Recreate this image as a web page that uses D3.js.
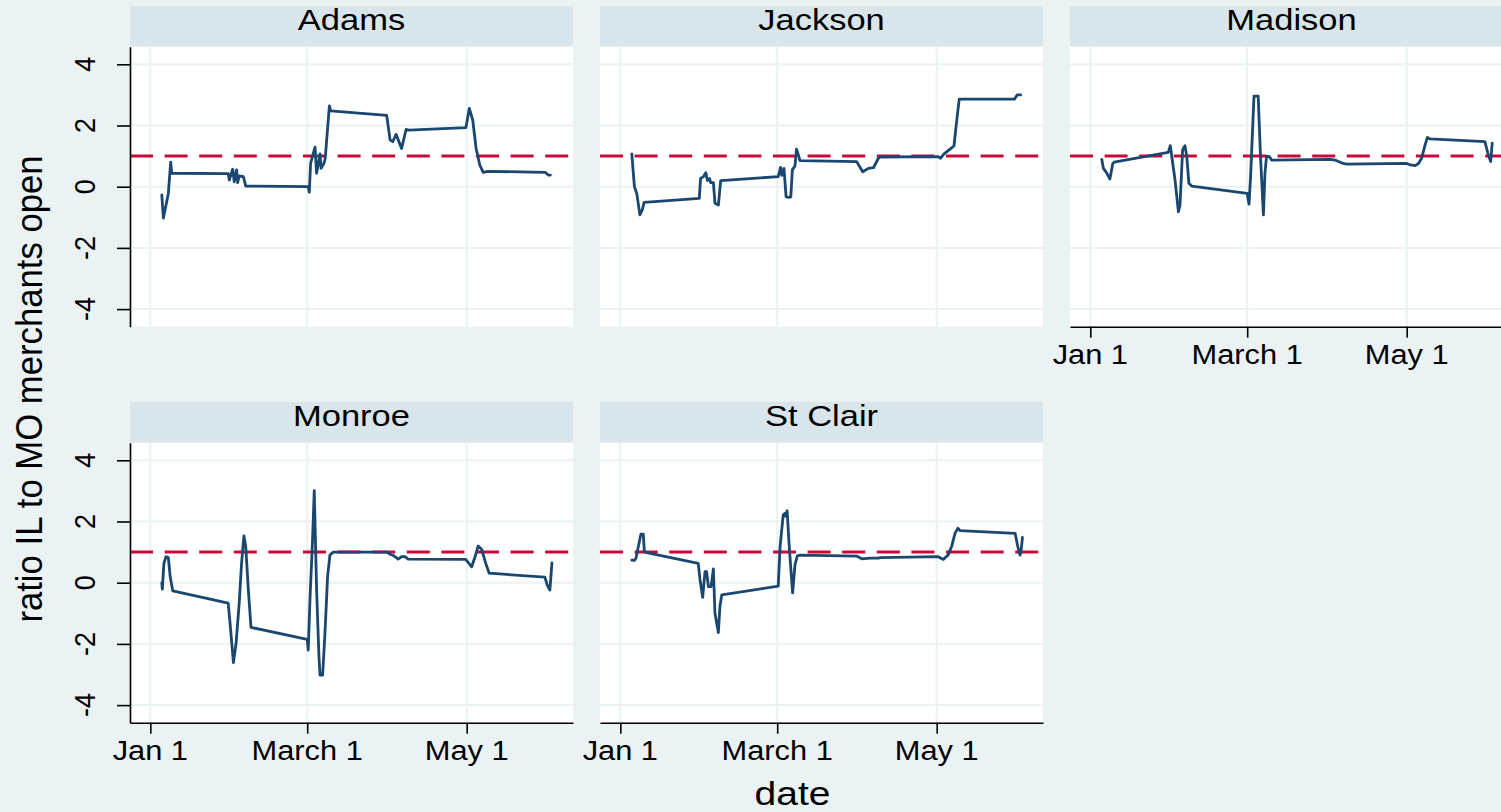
<!DOCTYPE html>
<html>
<head>
<meta charset="utf-8">
<script src="https://cdn.jsdelivr.net/npm/d3@7"></script>
<style>
  html, body { margin: 0; padding: 0; background: #eaf2f3; overflow: hidden; }
  svg { display: block; }
  text { font-family: "Liberation Sans", Arial, Helvetica, sans-serif; fill: #000; }
</style>
</head>
<body>
<svg id="chart" width="1501" height="812"></svg>
<script>
// ---- data: [days since Jan 1 2020, ratio] ----
const counties = ["Adams", "Jackson", "Madison", "Monroe", "St Clair"];

const adams = [[4.4,-0.27],[5.0,-1.03],[6.9,-0.22],[7.8,0.80],[8.2,0.44],[29.8,0.43],[30.2,0.22],[31.5,0.57],[32.1,0.16],[33.0,0.55],[33.4,0.13],[34.0,0.35],[35.6,0.33],[36.5,0.02],[60.4,0.0],[60.8,-0.18],[61.3,0.76],[63.0,1.29],[63.6,0.44],[64.9,1.07],[65.3,0.6],[66.4,0.76],[66.9,0.93],[67.7,1.8],[68.5,2.64],[69.0,2.48],[90.4,2.33],[91.7,1.53],[92.7,1.47],[94.0,1.71],[96.1,1.25],[97.8,1.87],[98.9,1.85],[120.7,1.93],[122.0,2.56],[123.3,2.18],[124.6,1.25],[126.0,0.71],[127.3,0.47],[129.2,0.5],[151.0,0.47],[152.2,0.38],[153.0,0.38]];

const jackson = [[4.4,1.07],[5.4,0.0],[6.3,-0.22],[7.5,-0.92],[8.4,-0.76],[9.1,-0.51],[30.2,-0.38],[30.7,0.27],[31.8,0.33],[32.7,0.46],[33.3,0.2],[34.1,0.27],[34.6,0.13],[35.6,0.13],[36.2,-0.54],[37.5,-0.6],[38.4,0.2],[60.4,0.33],[61.3,0.63],[61.8,0.37],[62.6,0.6],[63.4,-0.33],[64.5,-0.35],[65.2,-0.33],[65.8,0.55],[66.8,0.68],[67.4,1.23],[68.1,1.04],[68.7,0.85],[90.4,0.82],[92.7,0.49],[94.9,0.6],[96.8,0.62],[98.7,0.93],[99.3,0.97],[121.6,0.98],[122.5,0.93],[123.8,1.07],[126.1,1.23],[127.6,1.33],[128.4,1.96],[129.6,2.86],[150.7,2.86],[151.8,3.0],[153.1,3.0]];

const madison = [[4.4,0.89],[5.0,0.6],[6.2,0.46],[7.5,0.25],[8.6,0.76],[9.1,0.8],[29.8,1.12],[30.6,1.34],[32.4,0.22],[33.7,-0.82],[34.3,-0.6],[35.3,1.2],[36.2,1.34],[36.9,0.98],[37.7,0.11],[38.8,0.02],[60.0,-0.22],[60.7,-0.57],[61.3,0.33],[62.6,2.96],[64.2,2.96],[65.1,0.98],[66.2,-0.92],[66.8,0.44],[67.4,1.0],[68.5,0.98],[69.4,0.87],[91.7,0.89],[93.6,0.87],[96.7,0.76],[98.0,0.74],[121.0,0.76],[122.5,0.71],[124.2,0.69],[125.5,0.76],[126.7,0.93],[128.0,1.36],[128.9,1.61],[129.9,1.56],[150.9,1.47],[152.2,1.04],[153.1,0.82],[153.7,1.42]];

const monroe = [[4.4,0.0],[4.6,-0.21],[5.2,0.63],[6.0,0.85],[6.9,0.82],[7.6,0.2],[8.6,-0.27],[29.8,-0.67],[30.5,-1.33],[31.8,-2.61],[32.8,-1.98],[34.0,-0.67],[34.9,0.63],[35.8,1.53],[36.5,1.18],[37.5,-0.24],[38.5,-1.46],[60.0,-1.85],[60.4,-2.2],[61.1,-0.46],[62.0,1.29],[62.7,3.01],[63.6,-0.24],[64.5,-2.42],[64.9,-3.02],[65.9,-3.02],[66.8,-1.65],[67.8,0.2],[68.7,0.91],[70.0,1.0],[90.4,1.0],[91.7,0.93],[92.9,0.89],[94.8,0.77],[96.1,0.85],[97.4,0.85],[98.6,0.77],[120.6,0.76],[121.6,0.66],[122.9,0.52],[124.2,0.85],[125.4,1.2],[126.7,1.09],[128.3,0.63],[129.6,0.31],[150.9,0.18],[151.8,-0.08],[152.8,-0.24],[153.2,0.2],[153.6,0.65]];

const stClair = [[4.4,0.74],[5.4,0.73],[6.0,0.8],[6.9,1.18],[7.9,1.59],[8.8,1.59],[9.2,1.01],[10.1,0.98],[29.8,0.63],[30.5,0.09],[31.5,-0.48],[32.4,0.36],[33.0,0.36],[33.7,-0.13],[34.7,-0.13],[35.6,0.45],[36.2,-1.0],[37.5,-1.63],[38.1,-0.78],[38.8,-0.4],[60.4,-0.11],[61.1,1.18],[62.3,2.21],[63.0,2.27],[63.3,2.17],[63.8,2.35],[64.6,1.18],[65.9,-0.33],[66.8,0.58],[67.7,0.88],[68.7,0.9],[90.4,0.87],[92.3,0.78],[95.5,0.8],[98.7,0.8],[99.3,0.82],[121.6,0.85],[123.5,0.76],[125.4,0.91],[126.7,1.18],[128.0,1.61],[129.1,1.78],[130.0,1.7],[151.0,1.61],[152.0,1.18],[152.9,0.9],[153.3,1.07],[153.8,1.48]];

const seriesByCounty = [adams, jackson, madison, monroe, stClair];
const yTicks = [-4, -2, 0, 2, 4];
const xTickDates = ["2020-01-01", "2020-03-01", "2020-05-01"];
const xTickLabels = ["Jan 1", "March 1", "May 1"];
const referenceValue = 1;
const yTitle = "ratio IL to MO merchants open";
const xTitle = "date";

// ---- layout ----
const svg = d3.select("#chart");
const W = 1501, H = 812;
const C = {
  bg: "#eaf2f3", header: "#d8e5ea", grid: "#eaf2f3",
  line: "#1a476f", ref: "#c8093b", axis: "#000"
};
const panelW = 443, colStep = 470, rowStep = 396;
const left0 = 130, top0 = 6, headerH = 40.7, plotH = 280;
const nCols = 3;
const day0 = Date.UTC(2020, 0, 1);
const toDate = d => new Date(day0 + d * 864e5);
const xDomain = [toDate(-7.763), toDate(121 + 40.65)];
const yDomain = [-4.575, 4.575];

svg.append("rect").attr("width", W).attr("height", H).attr("fill", C.bg);

counties.forEach((name, i) => {
  const col = i % nCols, row = Math.floor(i / nCols);
  const px = left0 + col * colStep;
  const hy = top0 + row * rowStep;
  const py = hy + headerH;
  const data = seriesByCounty[i];

  const x = d3.scaleUtc().domain(xDomain).range([px, px + panelW]);
  const y = d3.scaleLinear().domain(yDomain).range([py + plotH, py]);

  const g = svg.append("g");

  // header strip
  g.append("rect").attr("x", px).attr("y", hy).attr("width", panelW).attr("height", headerH)
    .attr("fill", C.header);
  g.append("text")
    .attr("transform", `translate(${px + panelW / 2},${hy + 23.5}) scale(1.19,1)`)
    .attr("text-anchor", "middle").attr("font-size", 29).text(name);

  // plot area
  g.append("rect").attr("x", px).attr("y", py).attr("width", panelW).attr("height", plotH)
    .attr("fill", "#fff");

  // grid
  g.selectAll(".hg").data(yTicks).join("line")
    .attr("x1", px).attr("x2", px + panelW)
    .attr("y1", d => y(d)).attr("y2", d => y(d))
    .attr("stroke", C.grid).attr("stroke-width", 2);
  g.selectAll(".vg").data(xTickDates).join("line")
    .attr("x1", d => x(new Date(d))).attr("x2", d => x(new Date(d)))
    .attr("y1", py).attr("y2", py + plotH)
    .attr("stroke", C.grid).attr("stroke-width", 2);

  // reference line
  g.append("line")
    .attr("x1", px).attr("x2", px + panelW)
    .attr("y1", y(referenceValue)).attr("y2", y(referenceValue))
    .attr("stroke", C.ref).attr("stroke-width", 3)
    .attr("stroke-dasharray", "23 11.6");

  // series line
  const line = d3.line().x(d => x(toDate(d[0]))).y(d => y(d[1]));
  g.append("path").datum(data).attr("d", line)
    .attr("fill", "none").attr("stroke", C.line).attr("stroke-width", 2.8)
    .attr("stroke-linejoin", "round").attr("stroke-linecap", "round");

  // y axis on first column
  if (col === 0) {
    const ya = g.append("g").attr("transform", `translate(${px},0)`)
      .call(d3.axisLeft(y).tickValues(yTicks).tickSize(13).tickSizeOuter(0).tickFormat(""));
    ya.selectAll("path, line").attr("stroke", C.axis).attr("stroke-width", 1.6);
    g.selectAll(".ylab").data(yTicks).join("text")
      .attr("transform", d => `translate(${px - 35},${y(d)}) scale(1.12,1) rotate(-90)`)
      .attr("text-anchor", "middle").attr("font-size", 27)
      .text(d => d);
  }

  // x axis where there is no panel below
  const hasBelow = (i + nCols) < counties.length;
  if (!hasBelow) {
    const xa = g.append("g").attr("transform", `translate(0,${py + plotH})`)
      .call(d3.axisBottom(x).tickValues(xTickDates.map(d => new Date(d)))
        .tickSize(11).tickSizeOuter(0).tickFormat(""));
    xa.selectAll("path, line").attr("stroke", C.axis).attr("stroke-width", 1.6);
    g.selectAll(".xlab").data(xTickDates).join("text")
      .attr("transform", (d) => `translate(${x(new Date(d))},${py + plotH + 37}) scale(1.1,1)`)
      .attr("text-anchor", "middle").attr("font-size", 28)
      .text((d, k) => xTickLabels[k]);
  }
});

// axis titles
svg.append("text")
  .attr("transform", `translate(42,389) scale(1.07,1) rotate(-90)`)
  .attr("text-anchor", "middle").attr("font-size", 34.7).text(yTitle);
svg.append("text")
  .attr("transform", `translate(792.5,805) scale(1.2,1)`)
  .attr("text-anchor", "middle").attr("font-size", 32.5).text(xTitle);
</script>
</body>
</html>
